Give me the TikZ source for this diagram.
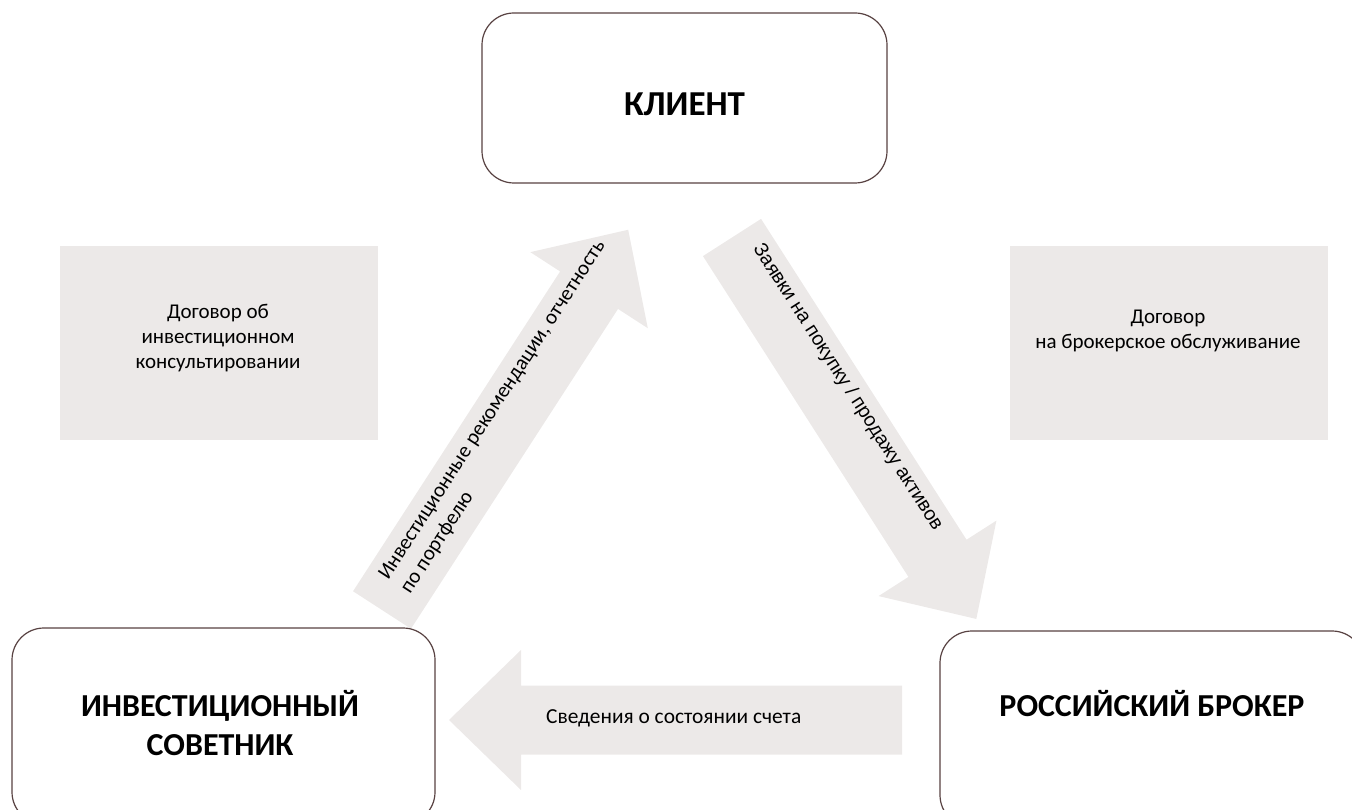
\documentclass[tikz,border=0pt]{standalone}
\usepackage{fontspec}
\setmainfont{Carlito}
\newfontfamily\arialf{Liberation Sans}
\definecolor{agrey}{RGB}{236,233,232}
\definecolor{bline}{RGB}{88,66,66}
\tikzset{
  partybox/.style={draw=bline, line width=1.2pt, rounded corners=32pt, fill=white, inner sep=0pt},
  partytext/.style={font=\bfseries\fontsize{32}{38.5}\selectfont, align=center, inner sep=0pt},
  contractbox/.style={fill=agrey, inner sep=0pt, minimum width=318pt, minimum height=194pt},
  contracttext/.style={font=\fontsize{21}{25}\selectfont, align=center, inner sep=0pt},
  flowtext/.style={font=\fontsize{21}{26}\selectfont, inner sep=0pt},
  blockarrow/.pic={\fill[agrey] (0,-34.5) -- (381,-34.5) -- (381,-70) -- (453,0) -- (381,70) -- (381,34.5) -- (0,34.5) -- cycle;}
}
\begin{document}
\begin{tikzpicture}[x=1pt,y=-1pt]
\useasboundingbox (0,0) rectangle (1352,810);
\clip (0,0) rectangle (1352,810);

% contract boxes
\node[contractbox] (cons) at (219,343) {};
\node[contracttext] (constext) at (218,338) {Договор об\\инвестиционном\\консультировании};
\node[contractbox] (brok) at (1169,343) {};
\node[contracttext] (broktext) at (1168,331) {Договор\\на брокерское обслуживание};

% block arrows
\pic[rotate=57.08] at (382,610) {blockarrow};
\pic[rotate=-57.36] at (732,237.5) {blockarrow};
\pic[rotate=180] at (902,720) {blockarrow};

% arrow labels
\node[flowtext, rotate=57.08, anchor=west, align=left] (t1) at (395,585) {Инвестиционные рекомендации, отчетность\\по портфелю};
\node[flowtext, font=\arialf\fontsize{19.6}{23}\selectfont, rotate=-57.36, anchor=west] (t2) at (757,246) {Заявки на покупку / продажу активов};
\node[flowtext, font=\fontsize{21.4}{25}\selectfont, anchor=west] (t3) at (546,718) {Сведения о состоянии счета};

% parties
\node[partybox, minimum width=405pt, minimum height=170pt] (client) at (684.5,98) {};
\node[partytext, font=\bfseries\fontsize{35}{40}\selectfont] (clienttext) at (684.5,104) {КЛИЕНТ};
\node[partybox, minimum width=423pt, minimum height=196pt] (adv) at (223.5,726) {};
\node[partytext] (advtext) at (220,723) {ИНВЕСТИЦИОННЫЙ\\СОВЕТНИК};
\node[partybox, minimum width=424pt, minimum height=196pt] (brk) at (1152,729) {};
\node[partytext] (brktext) at (1152,704) {РОССИЙСКИЙ БРОКЕР};
\end{tikzpicture}
\end{document}
